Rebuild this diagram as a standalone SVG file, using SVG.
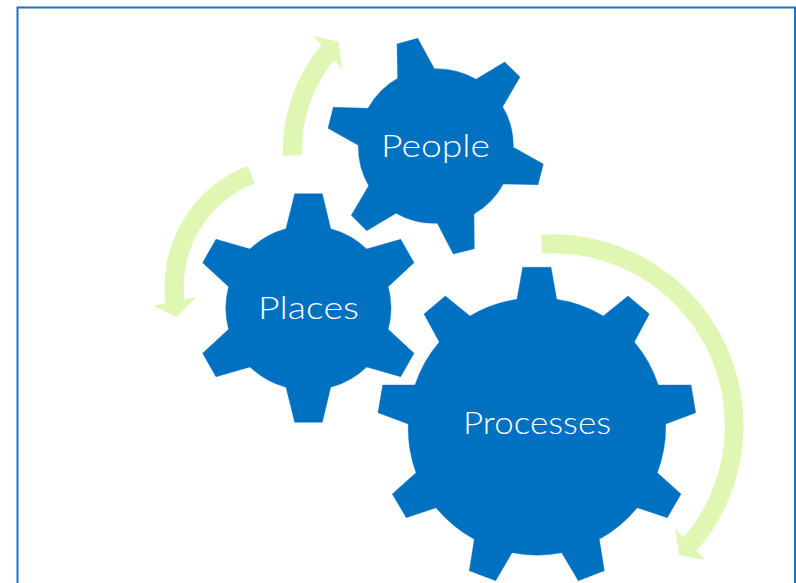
<svg xmlns="http://www.w3.org/2000/svg" width="796" height="583" viewBox="0 0 796 583">
  <style>
    .gear { fill: #0070c0; stroke: #0070c0; stroke-width: 0.4; stroke-linejoin: round; }
    .arrow { fill: #e0f7b3; }
    .label { fill: #ffffff; font-family: "Lato", "Open Sans", sans-serif; font-weight: 300; font-size: 31.5px; text-anchor: start; }
  </style>
  <rect width="796" height="583" fill="#ffffff"/>
  <rect id="frame" x="17.5" y="7.5" width="777.5" height="600" fill="none" stroke="#1a74c2" stroke-width="2"/>
  <g id="connectors">
    <path class="arrow" d="M283,156.3 A162,162 0 0 1 321.7,45 L312.7,35.7 L338.7,41.7 L342,68.7 L334,60 A143,143 0 0 0 302,154.7 Z"/>
    <path class="arrow" d="M247.3,166 A130,130 0 0 0 165.5,303 L153.3,305.7 L176.7,317.3 L196,297.3 L184.5,299.5 A111,111 0 0 1 255,183.3 Z"/>
    <path class="arrow" d="M541,234.7 A191,191 0 0 1 696.7,550.7 L705,560 L679.3,555.3 L675,528.3 L683.7,537.3 A172.2,172.2 0 0 0 542,253.7 Z"/>
  </g>
  <g id="people">
    <path class="gear" d="M397,44 L417.7,38.3 L434.3,68.7 A77.5,77.5 0 0 1 476,79.3 L504.7,62 L520,77 L502.7,106.7 A77.5,77.5 0 0 1 513.3,147.3 L543.3,164 L538,184.7 L503.3,184 A77.5,77.5 0 0 1 474,214 L474.3,248.7 L453.3,254 L437.3,223.3 A77.5,77.5 0 0 1 396,213.3 L366.7,230.7 L351.3,215.3 L368.7,185.7 A77.5,77.5 0 0 1 358.3,145.3 L328,128.3 L333.3,107.3 L368,108.3 A77.5,77.5 0 0 1 397.7,78.3 Z"/>
    <text class="label" x="381" y="156.7" textLength="109" lengthAdjust="spacingAndGlyphs">People</text>
  </g>
  <g id="places">
    <path class="gear" d="M294.7,193.7 L322.3,193.7 L330.7,228.7 A82.3,82.3 0 0 1 366.7,249 L400.7,239.3 L414,262.7 L388.2,286.7 A82.3,82.3 0 0 1 388.2,329.3 L414,353.3 L400.7,376.7 L366.7,367 A82.3,82.3 0 0 1 330.7,387.3 L322.3,422.3 L294.7,422.3 L286,387.3 A82.3,82.3 0 0 1 250,367 L216,376.7 L202.6,353.3 L228.6,329.3 A82.3,82.3 0 0 1 228.6,286.7 L202.6,262.7 L216,239.3 L250,249 A82.3,82.3 0 0 1 286,228.7 Z"/>
    <text class="label" x="258" y="319" textLength="101" lengthAdjust="spacingAndGlyphs">Places</text>
  </g>
  <g id="processes">
    <path class="gear" d="M522.7,267.3 L551,267.3 L556.7,299.3 A128.5,128.5 0 0 1 603.3,316 L628,296 L649.3,314 L634.3,342 A128.5,128.5 0 0 1 658.3,385 L691,385 L695.7,412.7 L665.7,424 A128.5,128.5 0 0 1 657.3,472.7 L681,494 L667.3,517.7 L637.3,507.7 A128.5,128.5 0 0 1 599.3,539.3 L604.3,570.7 L578.3,580.7 L561.7,552.7 A128.5,128.5 0 0 1 512,552.7 L495.7,580.7 L469.3,570.7 L474.3,539.3 A128.5,128.5 0 0 1 436,507.7 L406.3,517.7 L392.3,494 L416,472.7 A128.5,128.5 0 0 1 408.3,424 L378,412.7 L382.7,385 L415,385 A128.5,128.5 0 0 1 439.3,342 L424,314 L445.3,296 L470,316 A128.5,128.5 0 0 1 517,299.3 Z"/>
    <text class="label" x="463" y="434" textLength="148" lengthAdjust="spacingAndGlyphs">Processes</text>
  </g>
</svg>
